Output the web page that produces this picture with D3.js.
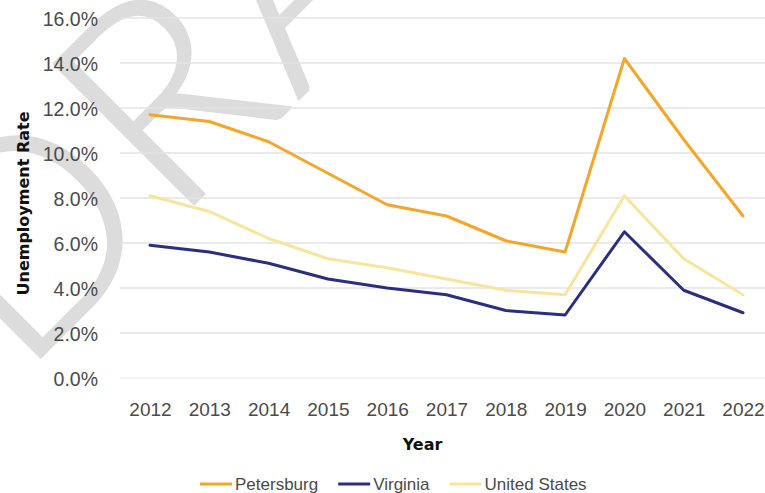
<!DOCTYPE html>
<html>
<head>
<meta charset="utf-8">
<script src="https://cdn.jsdelivr.net/npm/d3@7"></script>
<style>
  html, body { margin: 0; padding: 0; background: #fff; }
  svg { display: block; }
</style>
</head>
<body>
<svg id="chart" width="765" height="493"></svg>
<script>
const years = [2012, 2013, 2014, 2015, 2016, 2017, 2018, 2019, 2020, 2021, 2022];
const petersburg = [11.7, 11.4, 10.5, 9.1, 7.7, 7.2, 6.1, 5.6, 14.2, 10.6, 7.2];
const virginia = [5.9, 5.6, 5.1, 4.4, 4.0, 3.7, 3.0, 2.8, 6.5, 3.9, 2.9];
const unitedStates = [8.1, 7.4, 6.2, 5.3, 4.9, 4.4, 3.9, 3.7, 8.1, 5.3, 3.7];
const yTicks = [0, 2, 4, 6, 8, 10, 12, 14, 16];
const seriesNames = ["Petersburg", "Virginia", "United States"];
const seriesColors = ["#f4a62a", "#2a2e80", "#f8e59c"];

const series = [
  { name: seriesNames[0], values: petersburg, color: seriesColors[0] },
  { name: seriesNames[1], values: virginia, color: seriesColors[1] },
  { name: seriesNames[2], values: unitedStates, color: seriesColors[2] }
];

const svg = d3.select("#chart");

// watermark
svg.append("text")
  .attr("transform", "translate(20,378) rotate(-45)")
  .attr("font-family", "Lato, 'Open Sans', sans-serif")
  .attr("font-weight", 300)
  .attr("font-size", 280)
  .attr("letter-spacing", 4)
  .attr("fill", "#dcdcdc")
  .attr("stroke", "#dcdcdc")
  .attr("stroke-width", 2.5)
  .attr("stroke-linejoin", "round")
  .text("DRAFT");

const x = d3.scalePoint().domain(years).range([150, 743]);
const y = d3.scaleLinear().domain([0, 16]).range([378, 18]);

// gridlines
svg.append("g")
  .selectAll("line")
  .data(yTicks)
  .join("line")
  .attr("x1", 120).attr("x2", 765)
  .attr("y1", d => y(d)).attr("y2", d => y(d))
  .attr("stroke", d => d === 0 ? "#f1f1f1" : "#e3e3e3")
  .attr("stroke-width", 1.5);

// y axis
const yAxis = d3.axisLeft(y).tickValues(yTicks).tickFormat(d => d.toFixed(1) + "%").tickSize(0).tickPadding(0);
const gy = svg.append("g").attr("transform", "translate(98,0)").call(yAxis);
gy.select(".domain").remove();
gy.selectAll("text")
  .attr("font-family", "'Liberation Sans', Arial, sans-serif")
  .attr("font-size", 19.5)
  .attr("fill", "#4a4a4a")
  .attr("dy", "0.4em");

// x axis
const xAxis = d3.axisBottom(x).tickSize(0).tickPadding(0);
const gx = svg.append("g").attr("transform", "translate(0,416)").call(xAxis);
gx.select(".domain").remove();
gx.selectAll("text")
  .attr("font-family", "'Liberation Sans', Arial, sans-serif")
  .attr("font-size", 19)
  .attr("fill", "#4a4a4a")
  .attr("dy", 0)
  .attr("y", 0);

// lines
const line = d3.line()
  .x((d, i) => x(years[i]))
  .y(d => y(d));

svg.append("g")
  .selectAll("path")
  .data([series[2], series[1], series[0]])
  .join("path")
  .attr("d", d => line(d.values))
  .attr("fill", "none")
  .attr("stroke", d => d.color)
  .attr("stroke-width", 3)
  .attr("stroke-linejoin", "round")
  .attr("stroke-linecap", "round");

// axis titles
svg.append("text")
  .attr("x", 422.5).attr("y", 450)
  .attr("text-anchor", "middle")
  .attr("font-family", "'DejaVu Sans', sans-serif")
  .attr("font-weight", "bold")
  .attr("font-size", 16)
  .attr("fill", "#111")
  .text("Year");

svg.append("text")
  .attr("transform", "translate(29,203.5) rotate(-90)")
  .attr("text-anchor", "middle")
  .attr("font-family", "'DejaVu Sans', sans-serif")
  .attr("font-weight", "bold")
  .attr("font-size", 16)
  .attr("fill", "#111")
  .text("Unemployment Rate");

// legend
const legend = svg.append("g");
let lx = 200;
series.forEach(s => {
  legend.append("line")
    .attr("x1", lx).attr("x2", lx + 32)
    .attr("y1", 484).attr("y2", 484)
    .attr("stroke", s.color)
    .attr("stroke-width", 3);
  const t = legend.append("text")
    .attr("x", lx + 35).attr("y", 490)
    .attr("font-family", "'Liberation Sans', Arial, sans-serif")
    .attr("font-size", 17)
    .attr("fill", "#4a4a4a")
    .text(s.name);
  lx += 35 + t.node().getComputedTextLength() + 20;
});
</script>
</body>
</html>
